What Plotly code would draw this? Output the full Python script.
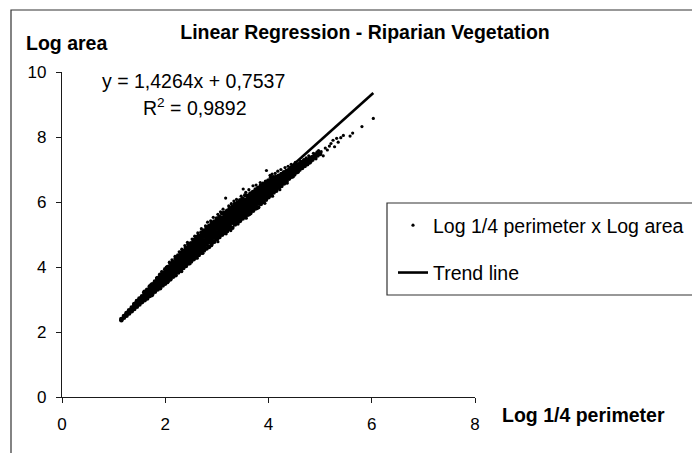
import plotly.graph_objects as go

# Regression coefficients reported for the fitted trend line
slope = 1.4264
intercept = 0.7537
r_squared = 0.9892

# Dense core of the point cloud: one x position per column and the log-area values found in it
column_x = [
    1.15, 1.20, 1.25, 1.30, 1.35, 1.40, 1.45, 1.50, 1.55, 1.60,
    1.65, 1.70, 1.75, 1.80, 1.85, 1.90, 1.95, 2.00, 2.05, 2.10,
    2.15, 2.20, 2.25, 2.30, 2.35, 2.40, 2.45, 2.50, 2.55, 2.60,
    2.65, 2.70, 2.75, 2.80, 2.85, 2.90, 2.95, 3.00, 3.05, 3.10,
    3.15, 3.20, 3.25, 3.30, 3.35, 3.40, 3.45, 3.50, 3.55, 3.60,
    3.65, 3.70, 3.75, 3.80, 3.85, 3.90, 3.95, 4.00, 4.05, 4.10,
    4.15, 4.20, 4.25, 4.30, 4.35, 4.40, 4.45, 4.50, 4.55, 4.60,
    4.65, 4.70, 4.75, 4.80, 4.85, 4.90, 4.95, 5.00,
]
column_y = [
    [2.36, 2.40], [2.44, 2.49], [2.50, 2.55, 2.58], [2.57, 2.62, 2.67],
    [2.64, 2.69, 2.75], [2.71, 2.77, 2.83, 2.86], [2.78, 2.84, 2.90, 2.95],
    [2.85, 2.91, 2.97, 3.03], [2.92, 2.98, 3.04, 3.10], [2.98, 3.05, 3.11, 3.18, 3.24],
    [3.03, 3.11, 3.18, 3.24, 3.30], [3.11, 3.18, 3.25, 3.32, 3.40], [3.17, 3.26, 3.33, 3.40, 3.47],
    [3.24, 3.31, 3.39, 3.46, 3.55], [3.31, 3.39, 3.47, 3.54, 3.62, 3.66],
    [3.35, 3.45, 3.53, 3.61, 3.69, 3.76], [3.43, 3.52, 3.60, 3.68, 3.76, 3.82],
    [3.49, 3.59, 3.67, 3.75, 3.84, 3.93], [3.57, 3.66, 3.75, 3.83, 3.92, 4.00],
    [3.62, 3.72, 3.81, 3.90, 3.99, 4.10], [3.70, 3.79, 3.88, 3.97, 4.06, 4.15],
    [3.75, 3.86, 3.95, 4.04, 4.13, 4.25], [3.83, 3.93, 4.02, 4.11, 4.20, 4.30, 4.35],
    [3.89, 4.00, 4.09, 4.18, 4.27, 4.37, 4.44], [3.97, 4.07, 4.16, 4.25, 4.34, 4.44, 4.50],
    [4.03, 4.13, 4.23, 4.32, 4.41, 4.51, 4.59], [4.11, 4.21, 4.30, 4.40, 4.49, 4.59, 4.70],
    [4.17, 4.28, 4.37, 4.47, 4.56, 4.66, 4.73], [4.24, 4.34, 4.44, 4.54, 4.64, 4.74, 4.83],
    [4.30, 4.41, 4.51, 4.61, 4.71, 4.81, 4.92], [4.37, 4.47, 4.57, 4.68, 4.78, 4.88, 4.96],
    [4.44, 4.55, 4.65, 4.75, 4.86, 4.96, 5.06], [4.51, 4.62, 4.72, 4.82, 4.93, 5.03, 5.12],
    [4.57, 4.69, 4.79, 4.89, 5.00, 5.10, 5.21], [4.62, 4.76, 4.86, 4.96, 5.07, 5.17, 5.26],
    [4.72, 4.83, 4.93, 5.04, 5.14, 5.24, 5.35], [4.78, 4.90, 5.00, 5.11, 5.21, 5.31, 5.40],
    [4.86, 4.97, 5.07, 5.18, 5.28, 5.38, 5.49], [4.92, 5.04, 5.14, 5.25, 5.35, 5.45, 5.54],
    [4.99, 5.10, 5.20, 5.31, 5.41, 5.51, 5.65], [5.05, 5.16, 5.26, 5.37, 5.47, 5.57, 5.67],
    [5.11, 5.23, 5.33, 5.44, 5.54, 5.64, 5.73], [5.18, 5.29, 5.39, 5.50, 5.60, 5.70, 5.81],
    [5.21, 5.36, 5.46, 5.57, 5.67, 5.77, 5.86], [5.31, 5.42, 5.52, 5.63, 5.73, 5.83, 5.94],
    [5.37, 5.48, 5.58, 5.69, 5.79, 5.89, 5.98], [5.42, 5.54, 5.64, 5.75, 5.85, 5.95, 6.05],
    [5.49, 5.60, 5.70, 5.81, 5.91, 6.01, 6.10], [5.54, 5.65, 5.75, 5.86, 5.96, 6.06, 6.21],
    [5.61, 5.71, 5.81, 5.92, 6.02, 6.12, 6.19], [5.66, 5.77, 5.87, 5.98, 6.08, 6.18, 6.26],
    [5.73, 5.83, 5.93, 6.04, 6.14, 6.24, 6.31], [5.80, 5.90, 6.00, 6.10, 6.20, 6.30, 6.38],
    [5.84, 5.97, 6.07, 6.17, 6.27, 6.37, 6.43], [5.94, 6.04, 6.13, 6.23, 6.33, 6.43, 6.50],
    [6.00, 6.10, 6.19, 6.29, 6.39, 6.49, 6.54], [6.07, 6.17, 6.26, 6.36, 6.45, 6.54, 6.62],
    [6.15, 6.24, 6.33, 6.42, 6.51, 6.60, 6.66], [6.21, 6.31, 6.39, 6.48, 6.57, 6.65, 6.76],
    [6.29, 6.37, 6.45, 6.54, 6.62, 6.70, 6.76], [6.35, 6.44, 6.52, 6.60, 6.68, 6.77],
    [6.44, 6.51, 6.58, 6.66, 6.73, 6.81], [6.49, 6.57, 6.64, 6.71, 6.78, 6.86],
    [6.57, 6.64, 6.70, 6.77, 6.84, 6.91], [6.63, 6.70, 6.76, 6.83, 6.89, 6.95],
    [6.72, 6.78, 6.84, 6.90, 6.97], [6.78, 6.85, 6.91, 6.97, 7.03],
    [6.85, 6.91, 6.97, 7.03, 7.08], [6.92, 6.98, 7.04, 7.10, 7.15],
    [6.99, 7.05, 7.11, 7.17], [7.05, 7.11, 7.17, 7.22], [7.11, 7.17, 7.23, 7.28],
    [7.16, 7.22, 7.29], [7.22, 7.28, 7.35], [7.30, 7.38], [7.36, 7.45], [7.43, 7.52],
    [7.48],
]

# Scattered points lying off the main band, then the sparse upper tail
outlier_x = [
    1.58, 1.72, 1.83, 1.93, 2.02, 2.08, 2.13, 2.19, 2.27, 2.32, 2.38, 2.43,
    2.52, 2.57, 2.63, 2.70, 2.78, 2.82, 2.88, 2.93, 3.02, 3.07, 3.12, 3.17,
    3.23, 3.28, 3.33, 3.38, 3.47, 3.51, 3.56, 3.62, 3.70, 3.76, 3.84, 3.89,
    3.96, 4.03, 4.07, 4.13, 4.18, 4.24, 4.32, 4.38, 4.44, 4.52,
    1.75, 2.05, 2.32, 2.48, 2.62, 2.73, 2.90, 3.02, 3.18, 3.27, 3.41, 3.57,
    3.64, 3.78, 3.93, 4.08, 4.22, 4.36, 4.48, 4.58,
    4.62, 4.68, 4.73, 4.78, 4.82, 4.87, 4.92, 4.97, 5.02, 5.06, 5.10, 5.14,
    5.18, 5.21, 5.25, 5.28, 5.32, 5.35, 5.40, 5.45, 5.58, 5.63, 5.81, 6.03,
]
outlier_y = [
    3.22, 3.46, 3.66, 3.86, 4.00, 4.15, 4.22, 4.33, 4.47, 4.55, 4.66, 4.76,
    4.86, 4.95, 5.05, 5.18, 5.27, 5.38, 5.42, 5.53, 5.62, 5.70, 5.78, 6.12,
    5.88, 5.95, 6.03, 6.08, 6.18, 6.40, 6.30, 6.38, 6.50, 6.52, 6.60, 6.58,
    6.97, 6.82, 6.86, 6.88, 6.95, 7.00, 7.06, 7.10, 7.16, 7.22,
    3.12, 3.52, 3.86, 4.10, 4.27, 4.42, 4.66, 4.78, 5.02, 5.12, 5.32, 5.50,
    5.62, 5.80, 5.96, 6.18, 6.38, 6.58, 6.78, 6.92,
    7.26, 7.30, 7.36, 7.42, 7.24, 7.50, 7.33, 7.58, 7.55, 7.42, 7.66, 7.60,
    7.72, 7.80, 7.90, 7.70, 7.96, 7.84, 7.98, 8.05, 8.03, 8.12, 8.32, 8.57,
]

x_tick_values = [0, 2, 4, 6, 8]
y_tick_values = [0, 2, 4, 6, 8, 10]

# Flatten the column table into plain x/y series
core_perimeter = [cx for cx, ys in zip(column_x, column_y) for _ in ys]
core_area = [y for ys in column_y for y in ys]
all_perimeter = core_perimeter + outlier_x

# Trend line across the observed x range, from the reported coefficients
trend_x = [min(all_perimeter), max(all_perimeter)]
trend_y = [slope * x + intercept for x in trend_x]

FONT = "Liberation Sans, Arial, sans-serif"
INK = "#1a1a1a"

fig = go.Figure()
fig.add_trace(go.Scatter(
    x=outlier_x, y=outlier_y, mode="markers",
    name="Log 1/4 perimeter x Log area", legendgroup="points",
    marker=dict(size=3.2, color="black", line=dict(width=0)),
))
fig.add_trace(go.Scatter(
    x=core_perimeter, y=core_area, mode="markers",
    name="Log 1/4 perimeter x Log area", legendgroup="points", showlegend=False,
    marker=dict(size=4.6, color="black", line=dict(width=0)),
))
fig.add_trace(go.Scatter(
    x=trend_x, y=trend_y, mode="lines",
    name="Trend line", legendgroup="trend",
    line=dict(color="black", width=2.6),
))

# Plot area spans 62..475 px horizontally and 72..397 px vertically
L, T, W, H = 62, 72, 413, 325


def px(xp):
    return (xp - L) / W


def py(yp):
    return (T + H - yp) / H


equation = f"y = {slope:.4f}x + {intercept:.4f}".replace(".", ",")
r2_text = f"R<sup>2</sup> = {r_squared:.4f}".replace(".", ",")

fig.update_layout(
    width=692, height=453,
    margin=dict(l=L, r=692 - L - W, t=T, b=453 - T - H, autoexpand=False),
    paper_bgcolor="white", plot_bgcolor="white",
    font=dict(family=FONT, color="black", size=16),
    title=dict(
        text="<b>Linear Regression - Riparian Vegetation</b>",
        font=dict(size=19.5, family=FONT, color="black"),
        xref="paper", x=px(365), xanchor="center",
        yref="container", y=1 - 32 / 453, yanchor="middle",
    ),
    showlegend=True,
    legend=dict(
        x=px(393), xanchor="left", y=py(206), yanchor="top",
        font=dict(size=19.5, family=FONT, color="black"),
        bgcolor="rgba(0,0,0,0)", borderwidth=0,
        traceorder="grouped", tracegroupgap=19, itemwidth=30,
    ),
    shapes=[
        # outer chart frame (runs off the right and bottom edges)
        dict(type="rect", xref="paper", yref="paper",
             x0=px(11), x1=px(760), y0=py(520), y1=py(10),
             line=dict(color="#333333", width=1.2), fillcolor="rgba(0,0,0,0)", layer="below"),
        # legend frame
        dict(type="rect", xref="paper", yref="paper",
             x0=px(387), x1=px(760), y0=py(295), y1=py(203),
             line=dict(color="#333333", width=1.2), fillcolor="rgba(0,0,0,0)"),
    ],
    annotations=[
        dict(text="<b>Log area</b>", xref="paper", yref="paper",
             x=px(24), y=py(43), xanchor="left", yanchor="middle",
             showarrow=False, font=dict(size=19.5, family=FONT, color="black")),
        dict(text="<b>Log 1/4 perimeter</b>", xref="paper", yref="paper",
             x=px(500), y=py(415), xanchor="left", yanchor="middle",
             showarrow=False, font=dict(size=19.5, family=FONT, color="black")),
        dict(text=equation, xref="paper", yref="paper",
             x=px(193), y=py(81), xanchor="center", yanchor="middle",
             showarrow=False, font=dict(size=19.5, family=FONT, color="black")),
        dict(text=r2_text, xref="paper", yref="paper",
             x=px(195), y=py(107), xanchor="center", yanchor="middle",
             showarrow=False, font=dict(size=19.5, family=FONT, color="black")),
    ],
)

axis_style = dict(
    showgrid=False, zeroline=False, showline=True,
    linecolor=INK, linewidth=1.3,
    ticks="outside", ticklen=5, tickwidth=1.3, tickcolor=INK,
    tickfont=dict(size=17, family=FONT, color="black"),
)
fig.update_xaxes(range=[0, 8], tickvals=x_tick_values, ticklabelstandoff=6, **axis_style)
fig.update_yaxes(range=[0, 10], tickvals=y_tick_values, ticklabelstandoff=6, **axis_style)

fig.write_html("out.html")
